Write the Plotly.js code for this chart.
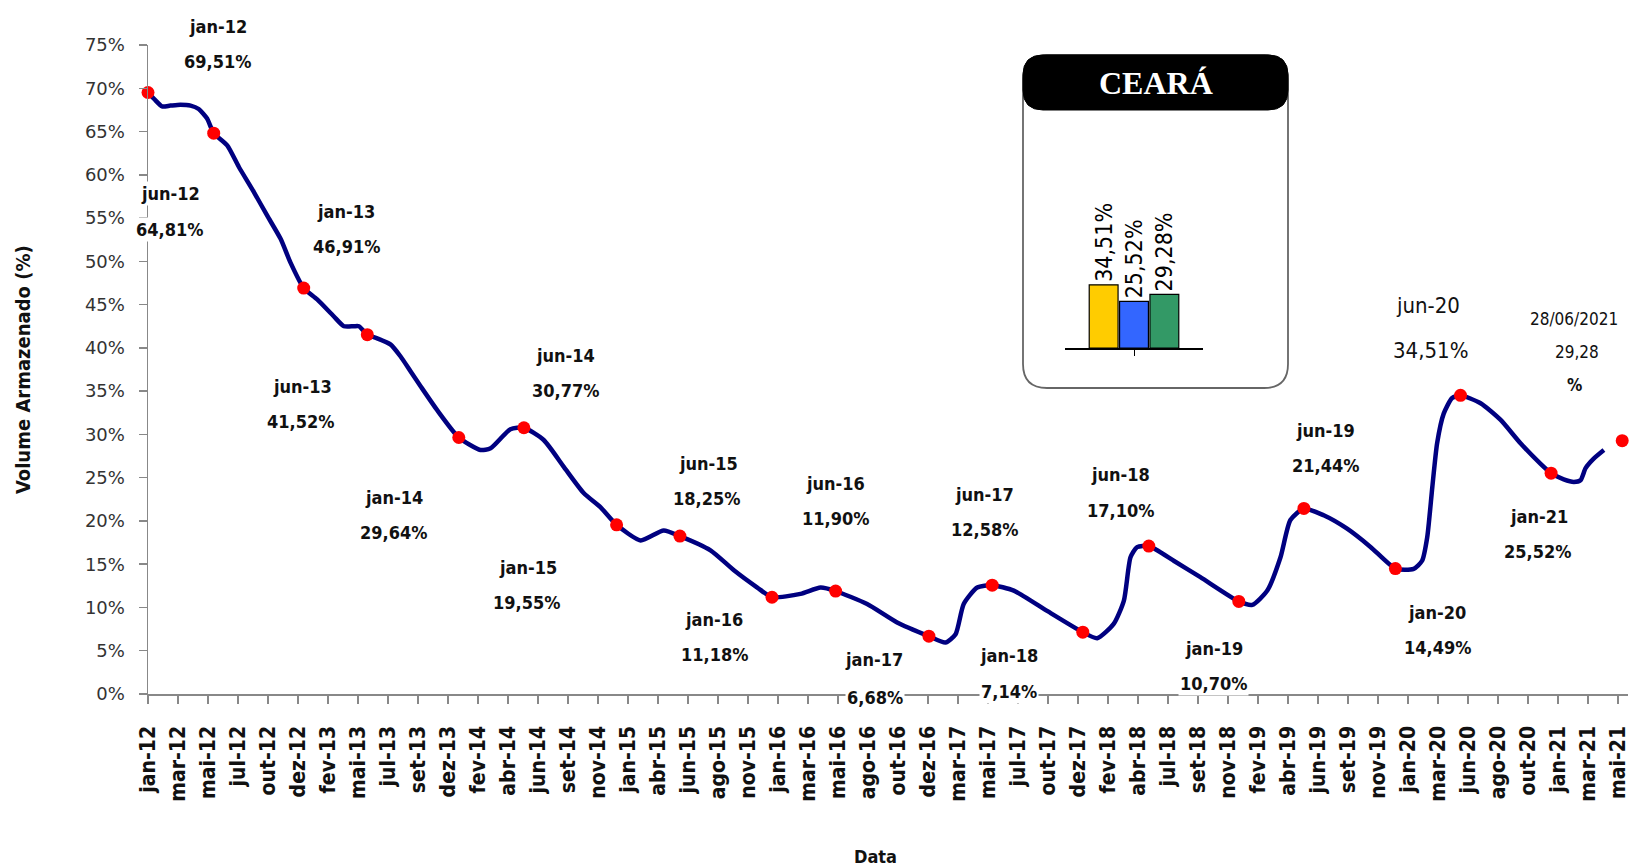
<!DOCTYPE html>
<html><head><meta charset="utf-8">
<script src="https://cdn.plot.ly/plotly-3.0.1.min.js"></script>
<style>html,body{margin:0;padding:0;background:#fff}</style>
</head><body><div id="chart" style="width:1629px;height:868px"></div>
<script>
// ---------- DATA ----------
const tickLabels = ['jan-12','mar-12','mai-12','jul-12','out-12','dez-12','fev-13','mai-13','jul-13','set-13',
  'dez-13','fev-14','abr-14','jun-14','set-14','nov-14','jan-15','abr-15','jun-15','ago-15',
  'nov-15','jan-16','mar-16','mai-16','ago-16','out-16','dez-16','mar-17','mai-17','jul-17',
  'out-17','dez-17','fev-18','abr-18','jul-18','set-18','nov-18','fev-19','abr-19','jun-19',
  'set-19','nov-19','jan-20','mar-20','jun-20','ago-20','out-20','jan-21','mar-21','mai-21'];

// line position in tick-index units, volume in %
const lineX = [0,0.25,0.47,0.75,1.08,1.42,1.69,1.97,2.19,2.64,3.03,3.53,3.97,4.42,4.75,5.19,5.64,6.19,6.53,6.86,
  7.03,7.31,7.64,8.08,8.42,8.75,9.08,9.64,10.36,11.08,11.42,12.08,12.53,13.19,13.86,14.53,15.08,15.62,16.42,17.19,
  17.73,18.75,19.53,20.31,20.8,21.75,22.42,22.92,23.97,24.97,26.03,26.58,26.92,27.19,27.64,28.14,28.86,29.97,31.16,31.64,
  32.19,32.53,32.75,32.97,33.36,34.19,35.08,36.36,36.81,37.31,37.75,38.08,38.53,39.19,39.97,40.75,41.58,42.19,42.47,42.64,
  42.81,42.97,43.19,43.47,43.75,44.42,45.08,45.75,46.42,46.77,47.19,47.53,47.75,47.92,48.19,48.53];
const lineY = [69.51,68.6,67.9,68.0,68.1,68.0,67.6,66.5,64.81,63.4,60.9,58.0,55.3,52.6,49.85,46.91,45.6,43.65,42.5,42.5,
  42.5,41.52,41.1,40.4,39.0,37.3,35.6,32.8,29.64,28.2,28.4,30.6,30.77,29.35,26.25,23.2,21.6,19.55,17.75,18.9,
  18.25,16.6,14.3,12.3,11.18,11.57,12.3,11.9,10.4,8.27,6.68,5.95,6.9,10.4,12.3,12.58,11.95,9.6,7.14,6.45,
  8.1,10.8,15.8,16.97,17.1,15.4,13.5,10.7,10.3,11.95,15.8,20.1,21.44,20.65,19.1,17.0,14.49,14.47,15.4,18.1,
  23.9,28.97,32.4,34.2,34.51,33.6,31.7,28.97,26.6,25.52,24.8,24.5,24.7,26.1,27.2,28.2];

const markerNames = ['jan-12','jun-12','jan-13','jun-13','jan-14','jun-14','jan-15','jun-15','jan-16','jun-16',
  'jan-17','jun-17','jan-18','jun-18','jan-19','jun-19','jan-20','jun-20','jan-21','28/06/2021'];
const markerX = [0,2.19,5.19,7.31,10.36,12.53,15.62,17.73,20.8,22.92,26.03,28.14,31.16,33.36,36.36,38.53,41.58,43.75,46.77,49.14];
const markerY = [69.51,64.81,46.91,41.52,29.64,30.77,19.55,18.25,11.18,11.90,6.68,12.58,7.14,17.10,10.70,21.44,14.49,34.51,25.52,29.28];

const insetCats = ['jun-20','jan-21','28/06/2021'];
const insetValues = [34.51,25.52,29.28];

// ---------- STYLE ----------
const insetColors = ['#FFCC00','#3366FF','#339966'];
// [dxName, dyName, dxValue, dyValue] in pixels (dy positive = down)
const labelShift = [
  [70,-66,69,-31],[-43,60,-44,96],[42,-77,43,-42],[-65,52,-67,87],[-65,60,-65,95],
  [42,-72,42,-37],[-89,43,-90,78],[29,-73,27,-38],[-58,22,-58,57],[0,-108,0,-73],
  [-55,23,-54,61],[-8,-91,-8,-56],[-74,23,-74,59],[-28,-72,-28,-36],[-25,47,-25,82],
  [22,-78,22,-43],[42,44,42,79],[-33,-90,-30,-45],[-12,43,-14,78],[-48,-122,-45,-89]];

const L = 148, T = 45, W = 1480, H = 649;
const px = p => (p - L) / W;
const py = p => (T + H - p) / H;
const fmt = v => v.toFixed(2).replace('.', ',');

const COND = '"DejaVu Sans Condensed", "DejaVu Sans", sans-serif';

function roundRect(x0, y0, x1, y1, r) {
  const P = (x, y) => px(x) + ',' + py(y);
  return 'M' + P(x0 + r, y0) + ' L' + P(x1 - r, y0) + ' Q' + P(x1, y0) + ' ' + P(x1, y0 + r) +
    ' L' + P(x1, y1 - r) + ' Q' + P(x1, y1) + ' ' + P(x1 - r, y1) +
    ' L' + P(x0 + r, y1) + ' Q' + P(x0, y1) + ' ' + P(x0, y1 - r) +
    ' L' + P(x0, y0 + r) + ' Q' + P(x0, y0) + ' ' + P(x0 + r, y0) + ' Z';
}

const traces = [
  {x: lineX, y: lineY, type: 'scatter', mode: 'lines',
   line: {color: '#000080', width: 4.5, shape: 'spline', smoothing: 0.6}, hoverinfo: 'skip'},
  {x: markerX, y: markerY, type: 'scatter', mode: 'markers', cliponaxis: false,
   marker: {color: '#FF0000', size: 13, symbol: 'circle'}, hoverinfo: 'skip'}
];
insetCats.forEach((c, k) => {
  traces.push({x: ['CE'], y: [insetValues[k]], type: 'bar', name: c, xaxis: 'x2', yaxis: 'y2',
    marker: {color: insetColors[k], line: {color: '#000', width: 1.2}},
    text: [fmt(insetValues[k]) + '%'], textposition: 'outside', textangle: -90,
    constraintext: 'none', cliponaxis: false,
    textfont: {family: '"Liberation Sans Narrow", ' + COND, size: 23, color: '#000'},
    hoverinfo: 'skip'});
});

const annotations = [];
markerNames.forEach((n, k) => {
  const s = labelShift[k];
  let nameFont = {family: COND, size: 18, color: '#111', weight: 'bold'};
  let valFont = {family: COND, size: 18, color: '#111', weight: 'bold'};
  let valText = fmt(markerY[k]) + '%';
  if (n === 'jun-20') {
    nameFont = {family: COND, size: 22, color: '#111'};
    valFont = {family: COND, size: 22, color: '#111'};
  }
  if (k === markerNames.length - 1) {
    nameFont = {family: COND, size: 17, color: '#111'};
    valFont = {family: COND, size: 17, color: '#111'};
    valText = fmt(markerY[k]);
    annotations.push({x: markerX[k], y: markerY[k], xref: 'x', yref: 'y', text: '%', showarrow: false,
      xanchor: 'center', yanchor: 'middle',
      xshift: -48, yshift: 56, font: {family: COND, size: 17, color: '#111', weight: 'bold'}});
  }
  annotations.push({x: markerX[k], y: markerY[k], xref: 'x', yref: 'y', text: n, showarrow: false,
    xanchor: 'center', yanchor: 'middle',
    xshift: s[0], yshift: -s[1], font: nameFont, bgcolor: '#fff', borderpad: 1});
  annotations.push({x: markerX[k], y: markerY[k], xref: 'x', yref: 'y', text: valText, showarrow: false,
    xanchor: 'center', yanchor: 'middle',
    xshift: s[2], yshift: -s[3], font: valFont, bgcolor: '#fff', borderpad: 1});
});
annotations.push({x: px(1156), y: py(83), xref: 'paper', yref: 'paper', text: 'CEARÁ', showarrow: false,
  xanchor: 'center', yanchor: 'middle',
  font: {family: '"Liberation Serif", "DejaVu Serif", serif', size: 32, color: '#fff', weight: 'bold'}});
annotations.push({x: px(23), y: py(370), xref: 'paper', yref: 'paper', text: 'Volume Armazenado (%)',
  xanchor: 'center', yanchor: 'middle',
  textangle: -90, showarrow: false, font: {family: COND, size: 20, color: '#111', weight: 'bold'}});
annotations.push({x: px(875), y: py(856), xref: 'paper', yref: 'paper', text: 'Data', showarrow: false,
  xanchor: 'center', yanchor: 'middle',
  font: {family: COND, size: 18, color: '#111', weight: 'bold'}});

const layout = {
  width: 1629, height: 868,
  margin: {l: L, r: 1629 - L - W, t: T, b: 868 - T - H},
  paper_bgcolor: '#fff', plot_bgcolor: 'rgba(0,0,0,0)',
  showlegend: false, hovermode: false,
  barmode: 'group', bargap: 0.34, bargroupgap: 0.05,
  xaxis: {range: [0, W / 30], tickmode: 'array', tickvals: tickLabels.map((_, i) => i), ticktext: tickLabels,
    tickangle: -90, ticks: 'outside', ticklen: 8, tickcolor: '#888', tickwidth: 1.5,
    showline: true, linecolor: '#888', linewidth: 1.5, showgrid: false, zeroline: false,
    ticklabelstandoff: 14, ticklabeloverflow: 'allow',
    tickfont: {family: COND, size: 21, color: '#111', weight: 'bold'}},
  yaxis: {range: [0, 75], tickmode: 'array', tickvals: [0,5,10,15,20,25,30,35,40,45,50,55,60,65,70,75],
    ticktext: ['0%','5%','10%','15%','20%','25%','30%','35%','40%','45%','50%','55%','60%','65%','70%','75%'],
    ticks: 'outside', ticklen: 8, tickcolor: '#888', tickwidth: 1.5,
    showline: true, linecolor: '#888', linewidth: 1.5, showgrid: false, zeroline: false,
    ticklabelstandoff: 10, ticklabeloverflow: 'allow',
    tickfont: {family: '"DejaVu Sans", sans-serif', size: 18, color: '#333'}},
  xaxis2: {domain: [px(1065), px(1203)], anchor: 'y2', showline: true, linecolor: '#000', linewidth: 1.5,
    ticks: 'outside', ticklen: 6, tickcolor: '#000', showticklabels: false, showgrid: false, zeroline: false, fixedrange: true},
  yaxis2: {domain: [py(348), py(348 - 125 * 1.83)], anchor: 'x2', range: [0, 125], visible: false, fixedrange: true},
  shapes: [
    {type: 'path', xref: 'paper', yref: 'paper', layer: 'below', path: roundRect(1023, 55, 1288, 388, 24),
     fillcolor: '#fff', line: {color: '#666', width: 1.8}},
    {type: 'path', xref: 'paper', yref: 'paper', layer: 'below', path: roundRect(1023, 55, 1288, 110, 20),
     fillcolor: '#000', line: {color: '#000', width: 1}}
  ],
  annotations: annotations
};

Plotly.newPlot('chart', traces, layout, {staticPlot: true, displayModeBar: false});
</script></body></html>
